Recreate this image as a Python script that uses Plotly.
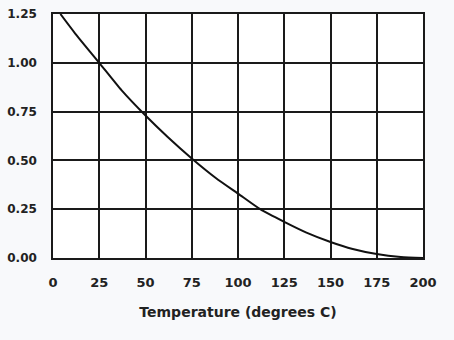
import plotly.graph_objects as go

temperature = [4, 12, 25, 37, 50, 62, 75, 88, 100, 112, 125, 137, 150, 162, 175, 188, 200]
value = [1.25, 1.15, 1.0, 0.86, 0.73, 0.62, 0.51, 0.41, 0.33, 0.25, 0.185, 0.13, 0.082, 0.046, 0.02, 0.005, 0.0]
x_ticks = [0, 25, 50, 75, 100, 125, 150, 175, 200]
y_ticks = [0.0, 0.25, 0.5, 0.75, 1.0, 1.25]
y_labels = ["0.00", "0.25", "0.50", "0.75", "1.00", "1.25"]

fig = go.Figure()
fig.add_trace(go.Scatter(x=temperature, y=value, mode="lines",
                         line=dict(color="#111111", width=2, shape="spline", smoothing=0.6),
                         hoverinfo="skip", showlegend=False))

tick_font = dict(family="DejaVu Sans", size=13, color="#222222", weight="bold")
ytick_font = dict(family="DejaVu Sans", size=12, color="#222222", weight="bold")
title_font = dict(family="DejaVu Sans", size=14, color="#222222", weight="bold")
fig.update_layout(
    width=454, height=340,
    margin=dict(l=53, r=31, t=14, b=82),
    paper_bgcolor="#f8f9fb", plot_bgcolor="#ffffff",
)
fig.update_xaxes(range=[0, 200], tickvals=x_ticks, ticktext=[str(v) for v in x_ticks],
                 tickfont=tick_font, automargin=False,
                 showgrid=True, gridcolor="#1a1a1a", gridwidth=1.5,
                 showline=True, linecolor="#1a1a1a", linewidth=1.5, mirror=True,
                 zeroline=False, ticks="", ticklabelstandoff=12,
                 title=dict(text="Temperature (degrees C)", font=title_font, standoff=18))
fig.update_yaxes(range=[0, 1.25], tickvals=y_ticks, ticktext=y_labels,
                 tickfont=ytick_font, automargin=False,
                 showgrid=True, gridcolor="#1a1a1a", gridwidth=1.5,
                 showline=True, linecolor="#1a1a1a", linewidth=1.5, mirror=True,
                 zeroline=False, ticks="", ticklabelstandoff=12)

fig.write_html("out.html")
